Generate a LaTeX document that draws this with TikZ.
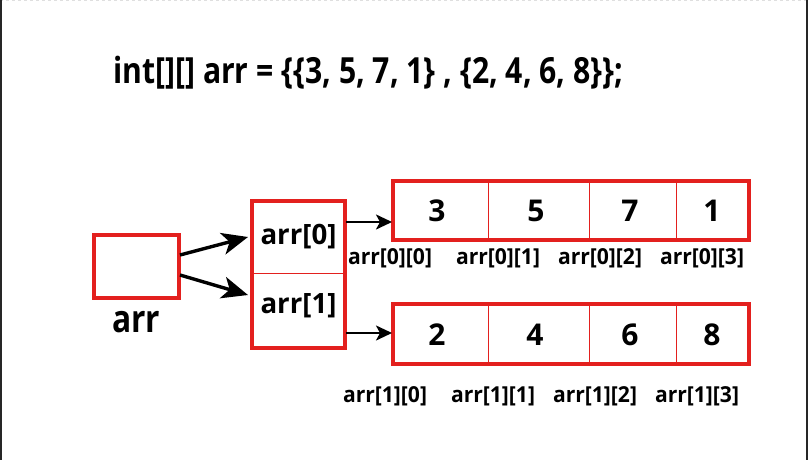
\documentclass[tikz,border=0pt]{standalone}
\usepackage{fontspec}
\setmainfont{Open Sans}
\usetikzlibrary{arrows.meta}
\definecolor{boxred}{HTML}{E3201E}
\tikzset{
  redbox/.style={draw=boxred, line width=4pt, fill=white},
  thinred/.style={draw=boxred, line width=1pt},
  bigarrow/.style={-{Stealth[length=26pt,width=22pt,inset=7pt]}, line width=3.4pt, black},
  smallarrow/.style={-{Stealth[length=16pt,width=15pt,inset=4pt]}, line width=2.2pt, black},
  num/.style={font=\bfseries\fontsize{30}{32}\selectfont, inner sep=0pt},
  ptr/.style={font=\bfseries\fontsize{28}{30}\selectfont, inner sep=0pt},
  idx/.style={font=\bfseries\fontsize{22}{24}\selectfont, inner sep=0pt},
}
\newcommand{\cond}[2]{\resizebox{#1}{\height}{#2}}
\begin{document}
\begin{tikzpicture}[x=1pt,y=-1pt]
\useasboundingbox (0,0) rectangle (808,460);
\draw[gray!25, dashed, line width=1pt] (0,0.5) -- (808,0.5);
\draw[black!85, line width=1.5pt] (0.75,0) -- (0.75,460);
\draw[black!85, line width=1.5pt] (807,0) -- (807,460);

\node[inner sep=0pt, anchor=base west] (title) at (113,84)
  {\bfseries\fontsize{36}{38}\selectfont\cond{510pt}{int[][] arr = \{\{3, 5, 7, 1\} , \{2, 4, 6, 8\}\};}};

% arr box
\draw[redbox] (93.5,235) rectangle (178.5,298);
\coordinate (arrTop) at (180,255);
\coordinate (arrBot) at (180,275);
\node[inner sep=0pt, font=\bfseries\fontsize{38}{40}\selectfont] (arrlbl) at (136,322) {\cond{48pt}{arr}};

% middle box
\draw[redbox] (252,201) rectangle (345,348);
\draw[thinred] (252,273) -- (345,273);
\node[ptr] (p0) at (298.5,237) {\cond{76pt}{arr[0]}};
\node[ptr] (p1) at (298.5,306) {\cond{76pt}{arr[1]}};
\coordinate (m0) at (248,237);
\coordinate (m1) at (248,295);
\draw[bigarrow] (arrTop) -- (m0);
\draw[bigarrow] (arrBot) -- (m1);

% row 0
\draw[redbox] (393,181) rectangle (749,240);
\draw[thinred] (488,181) -- (488,240);
\draw[thinred] (589,181) -- (589,240);
\draw[thinred] (676,181) -- (676,240);
\node[num] (a00) at (437,211) {3};
\node[num] (a01) at (536,211) {5};
\node[num] (a02) at (630,211) {7};
\node[num] (a03) at (712,211) {1};
\coordinate (r0s) at (346,222);
\coordinate (r0e) at (392,222);
\draw[smallarrow] (r0s) -- (r0e);
\node[idx] (l00) at (390,258) {\cond{84pt}{arr[0][0]}};
\node[idx] (l01) at (498,258) {\cond{84pt}{arr[0][1]}};
\node[idx] (l02) at (600,258) {\cond{84pt}{arr[0][2]}};
\node[idx] (l03) at (702,258) {\cond{84pt}{arr[0][3]}};

% row 1
\draw[redbox] (393,304) rectangle (749,364);
\draw[thinred] (488,304) -- (488,364);
\draw[thinred] (589,304) -- (589,364);
\draw[thinred] (676,304) -- (676,364);
\node[num] (a10) at (437,335) {2};
\node[num] (a11) at (535,335) {4};
\node[num] (a12) at (630,335) {6};
\node[num] (a13) at (712,335) {8};
\coordinate (r1s) at (346,333);
\coordinate (r1e) at (392,333);
\draw[smallarrow] (r1s) -- (r1e);
\node[idx] (l10) at (385,396) {\cond{84pt}{arr[1][0]}};
\node[idx] (l11) at (493,396) {\cond{84pt}{arr[1][1]}};
\node[idx] (l12) at (595,396) {\cond{84pt}{arr[1][2]}};
\node[idx] (l13) at (697,396) {\cond{84pt}{arr[1][3]}};
\end{tikzpicture}
\end{document}
